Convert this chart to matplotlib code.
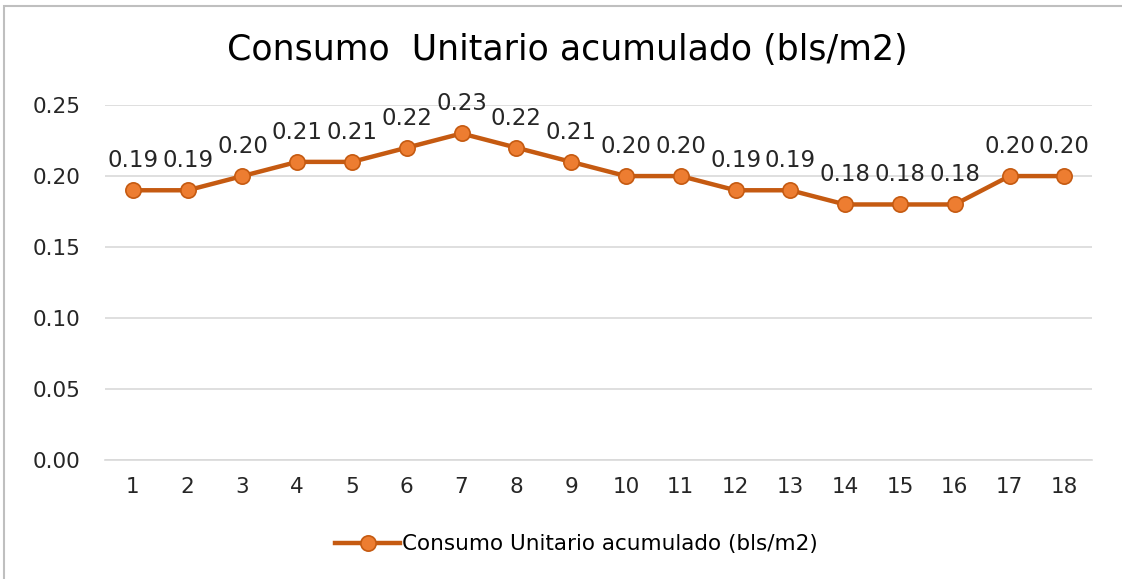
import matplotlib.pyplot as plt
from matplotlib.patches import Rectangle

periods = list(range(1, 19))
consumo = [0.19, 0.19, 0.20, 0.21, 0.21, 0.22, 0.23, 0.22, 0.21,
           0.20, 0.20, 0.19, 0.19, 0.18, 0.18, 0.18, 0.20, 0.20]
yticks = [0.00, 0.05, 0.10, 0.15, 0.20, 0.25]
title = "Consumo  Unitario acumulado (bls/m2)"
series_name = "Consumo Unitario acumulado (bls/m2)"

plt.rcParams['font.family'] = ['DejaVu Sans']

fig = plt.figure(figsize=(11.22, 5.79), dpi=100)
ax = fig.add_axes([0.094, 0.2055, 0.879, 0.613])

# chart border
fig.patches.append(Rectangle((0.004, -0.01), 1.0, 0.999, transform=fig.transFigure,
                             fill=False, edgecolor='#BFBFBF', linewidth=1.5))

ax.plot(periods, consumo, '-o', color='#C55A11', linewidth=3.2,
        markersize=11, markerfacecolor='#ED7D31', markeredgecolor='#C55A11',
        markeredgewidth=1.2, label=series_name, zorder=3)

for x, y in zip(periods, consumo):
    ax.annotate(f"{y:.2f}", (x, y), xytext=(0, 13), textcoords='offset points',
                ha='center', va='bottom', fontsize=16.5, color='#262626')

ax.set_xlim(0.5, 18.5)
ax.set_ylim(0, 0.25)
ax.set_xticks(periods)
ax.set_yticks(yticks)
ax.set_yticklabels([f"{v:.2f}" for v in yticks])
ax.tick_params(axis='both', length=0, labelsize=15.5, colors='#262626')
ax.tick_params(axis='x', pad=12)
ax.tick_params(axis='y', pad=18)
ax.grid(axis='y', color='#D9D9D9', linewidth=1.2)
ax.set_axisbelow(True)
for s in ['top', 'right', 'left']:
    ax.spines[s].set_visible(False)
ax.spines['bottom'].set_color('#D9D9D9')
ax.spines['bottom'].set_linewidth(1.2)

fig.text(0.506, 0.913, title, ha='center', va='center', fontsize=25, color='#000000')

fig.legend(loc='center', bbox_to_anchor=(0.514, 0.06), frameon=False,
           fontsize=15.5, handlelength=3.0, handletextpad=0.1)

fig.savefig('out.png', dpi=100)
